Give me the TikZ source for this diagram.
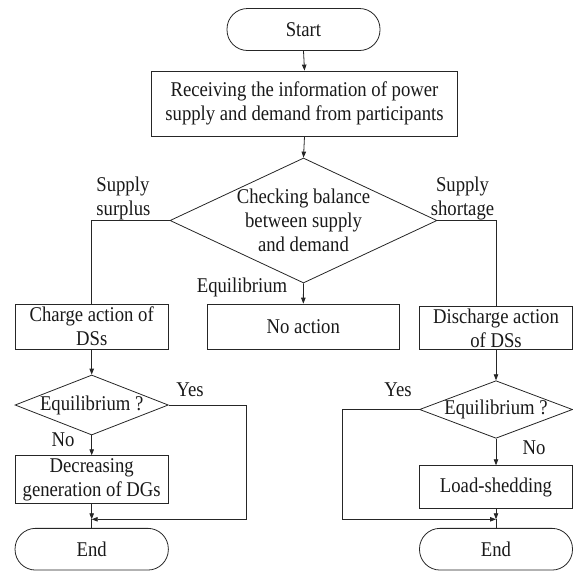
\documentclass[tikz,border=0pt]{standalone}
\usepackage{fontspec}
\setmainfont{Liberation Serif}[FakeStretch=0.89]
\usetikzlibrary{arrows.meta,shapes.geometric}
\newcommand\figfont{\fontsize{21}{24}\selectfont}
\begin{document}
\begin{tikzpicture}[x=1pt,y=-1pt,
  line/.style={draw=black!85, line width=0.8pt},
  arr/.style={line, -{Triangle[length=6pt,width=4.5pt]}},
  box/.style={line, rectangle, inner sep=0pt, align=center, font=\figfont, text=black!90},
  term/.style={box, rounded corners=20.5pt},
  dia/.style={line, diamond, inner sep=0pt},
  lab/.style={inner sep=0pt, align=center, font=\figfont, text=black!90}
]
\useasboundingbox (0,0) rectangle (573,571);
% main column
\node[term, minimum width=153pt, minimum height=42pt] (start) at (303.5,29.5) {Start};
\node[box, minimum width=306pt, minimum height=65pt] (recv) at (304.5,103.5) {Receiving the information of power\\supply and demand from participants};
\node[dia, minimum width=267pt, minimum height=125pt] (check) at (303.5,220.5) {};
\node[lab] (checkT) at (check.center) {Checking balance\\between supply\\and demand};
\node[box, minimum width=192pt, minimum height=45.3pt] (noact) at (303.3,326.7) {No action};
% left column
\node[box, minimum width=153.3pt, minimum height=45.3pt] (chg) at (91.7,326.7) {Charge action of\\DSs};
\node[dia, minimum width=153.3pt, minimum height=60pt] (eqL) at (91.7,405) {};
\node[lab] (eqLT) at (eqL.center) {Equilibrium ?};
\node[box, minimum width=153.3pt, minimum height=47.6pt] (dec) at (91.7,479.5) {Decreasing\\generation of DGs};
\node[term, minimum width=153.3pt, minimum height=41.7pt] (endL) at (91.7,549.2) {End};
% right column
\node[box, minimum width=153pt, minimum height=42.6pt] (dis) at (496,328) {Discharge action\\of DSs};
\node[dia, minimum width=153pt, minimum height=57.6pt] (eqR) at (496,409.5) {};
\node[lab] (eqRT) at (eqR.center) {Equilibrium ?};
\node[box, minimum width=153pt, minimum height=42.6pt] (load) at (496,487) {Load-shedding};
\node[term, minimum width=153pt, minimum height=41.7pt] (endR) at (496,549.2) {End};
% labels
\node[lab, align=left] (surplus) at (123.4,198) {Supply\\surplus};
\node[lab] (shortage) at (462.5,198) {Supply\\shortage};
\node[lab] (equi) at (242,287) {Equilibrium};
\node[lab] (yesL) at (190,390) {Yes};
\node[lab] (noL) at (63,440) {No};
\node[lab] (yesR) at (398,390) {Yes};
\node[lab] (noR) at (534,448) {No};
% coordinates
\coordinate (mL) at (91.7,519.3);
\coordinate (mR) at (496,519.3);
\coordinate (yL) at (246.7,405);
\coordinate (yR) at (342.3,409.5);
% connectors
\draw[arr] (start.south) -- (recv.north);
\draw[arr] (recv.south) -- (check.north);
\draw[arr] (check.south) -- (noact.north);
\draw[line] (check.west) -| (chg.north);
\draw[line] (check.east) -| (dis.north);
\draw[arr] (chg.south) -- (eqL.north);
\draw[arr] (eqL.south) -- (dec.north);
\draw[arr] (dec.south) -- (mL);
\draw[arr] (eqL.east) -- (yL) |- (mL);
\draw[line] (mL) -- (endL.north);
\draw[arr] (dis.south) -- (eqR.north);
\draw[arr] (eqR.south) -- (load.north);
\draw[arr] (load.south) -- (mR);
\draw[arr] (eqR.west) -- (yR) |- (mR);
\draw[line] (mR) -- (endR.north);
\end{tikzpicture}
\end{document}
